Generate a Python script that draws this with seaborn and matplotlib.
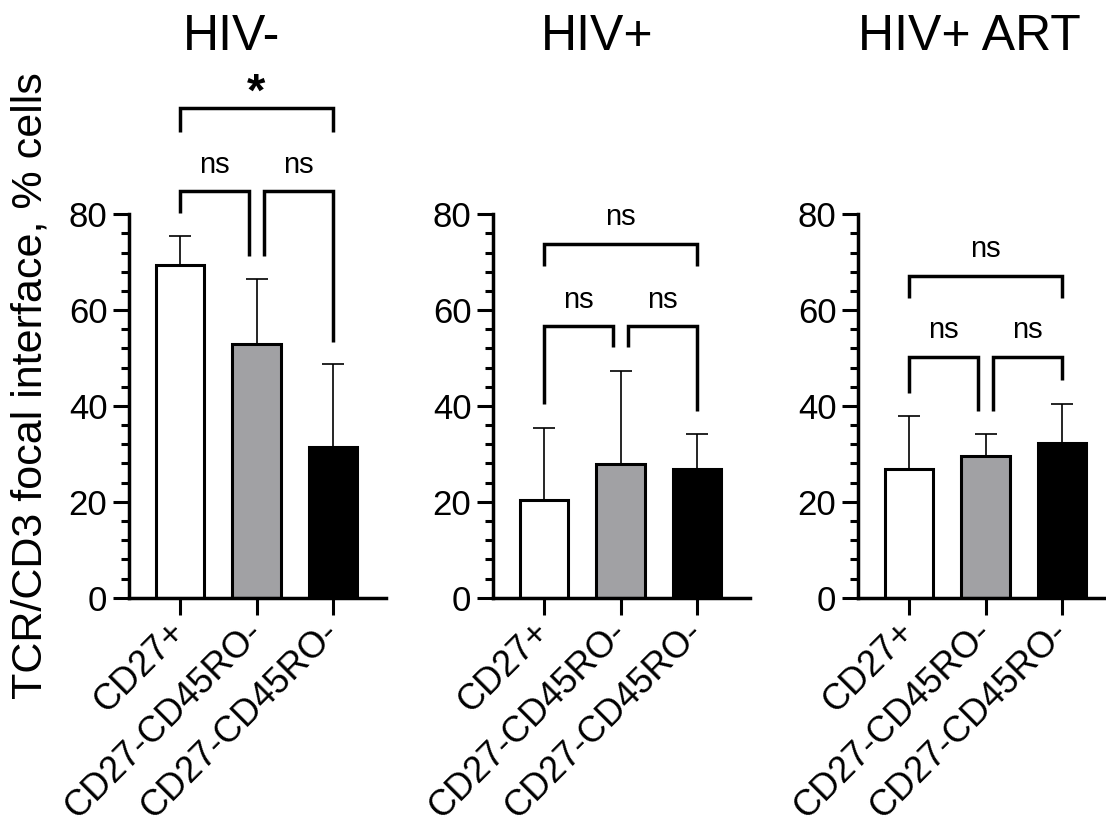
import numpy as np
import pandas as pd
import seaborn as sns
import matplotlib.pyplot as plt
from matplotlib.ticker import MultipleLocator
from matplotlib.transforms import ScaledTranslation

# tick labels and panel titles
subsets = ["CD27+", "CD27-CD45RO-", "CD27-CD45RO-"]
groups = ["HIV-", "HIV+", "HIV+ ART"]
bar_colors = ["#ffffff", "#a0a1a5", "#000000"]

# bar heights (mean) and upper error (SD), per group
mean_neg = [69.4, 53.0, 31.5]
sd_neg = [6.0, 13.5, 17.3]
mean_pos = [20.3, 27.8, 26.9]
sd_pos = [15.0, 19.4, 7.2]
mean_art = [26.9, 29.5, 32.3]
sd_art = [11.0, 4.7, 8.2]

# significance labels: (left pair, right pair, outer pair)
sig_neg = ["ns", "ns", "*"]
sig_pos = ["ns", "ns", "ns"]
sig_art = ["ns", "ns", "ns"]

# bracket heights
br_neg = dict(top=84.9, l1=80.2, l2=71.3, l3=53.4, otop=102.2, oleg=97.2)
br_pos = dict(top=56.7, l1=40.4, l2=52.2, l3=39.0, otop=73.8, oleg=69.1)
br_art = dict(top=50.3, l1=42.8, l2=38.9, l3=45.4, otop=67.2, oleg=62.5)

sns.set_style("ticks")
plt.rcParams["font.family"] = ["Liberation Sans", "DejaVu Sans"]
for k in ["text.color", "axes.labelcolor", "xtick.color", "ytick.color",
          "axes.edgecolor"]:
    plt.rcParams[k] = "black"

fig = plt.figure(figsize=(11.06, 8.33), dpi=100)
lefts = [129 / 1106, 493 / 1106, 858 / 1106]
width = 257 / 1106
bottom = 0.2825
height = 0.4603

panels = [
    (mean_neg, sd_neg, sig_neg, br_neg),
    (mean_pos, sd_pos, sig_pos, br_pos),
    (mean_art, sd_art, sig_art, br_art),
]

LW = 2.5
for i, (means, sds, sigs, br) in enumerate(panels):
    ax = fig.add_axes([lefts[i], bottom, width, height])
    df = pd.DataFrame({"pos": [0, 1, 2], "val": means})
    sns.barplot(data=df, x="pos", y="val", hue="pos", palette=bar_colors,
                legend=False, errorbar=None, width=0.63,
                edgecolor="black", linewidth=2.2, ax=ax, zorder=2)
    ax.errorbar(df["pos"], means, yerr=[np.zeros(3), sds], fmt="none",
                ecolor="black", elinewidth=1.2, capsize=8, capthick=1.2,
                zorder=1)

    ax.set_ylim(0, 80)
    ax.set_xlim(-0.665, 2.69)
    ax.yaxis.set_major_locator(MultipleLocator(20))
    ax.yaxis.set_minor_locator(MultipleLocator(4))
    ax.set_xticks([0, 1, 2])
    ax.set_xticklabels(subsets, rotation=45, ha="right",
                       rotation_mode="anchor", va="center")
    shift = ScaledTranslation(6 / 100, 0, fig.dpi_scale_trans)
    for lab in ax.get_xticklabels():
        lab.set_transform(lab.get_transform() + shift)
    ax.set_xlabel("")
    ax.set_ylabel("")
    sns.despine(ax=ax)
    for s in ["left", "bottom"]:
        ax.spines[s].set_linewidth(LW)
    ax.tick_params(axis="y", which="major", length=11.5, width=2.2,
                   labelsize=25, pad=4)
    ax.tick_params(axis="y", which="minor", length=6, width=2.2)
    ax.tick_params(axis="x", which="major", length=12, width=2.2,
                   labelsize=26, pad=9)

    # brackets
    kw = dict(color="black", lw=LW, clip_on=False,
              solid_joinstyle="miter", solid_capstyle="butt")
    ax.plot([0, 0, 0.9, 0.9], [br["l1"], br["top"], br["top"], br["l2"]], **kw)
    ax.plot([1.095, 1.095, 2, 2], [br["l2"], br["top"], br["top"], br["l3"]], **kw)
    ax.plot([0, 0, 2, 2], [br["oleg"], br["otop"], br["otop"], br["oleg"]], **kw)
    ax.text(0.45, br["top"] + 3.8, sigs[0], ha="center", va="baseline", fontsize=21)
    ax.text(1.55, br["top"] + 3.8, sigs[1], ha="center", va="baseline", fontsize=21)
    if sigs[2] == "*":
        ax.text(1.0, br["otop"] + 0.5, sigs[2], ha="center", va="baseline",
                fontsize=34, fontweight="bold")
    else:
        ax.text(1.0, br["otop"] + 3.9, sigs[2], ha="center", va="baseline",
                fontsize=21)

title_x = [232 / 1106, 597 / 1106, 969 / 1106]
for x, g in zip(title_x, groups):
    fig.text(x, 1 - 50 / 833, g, ha="center", va="baseline", fontsize=36)

fig.text(31 / 1106, 1 - 386 / 833, "TCR/CD3 focal interface, % cells",
         rotation=90, ha="center", va="center", fontsize=31)

fig.savefig("out.png", dpi=100)
